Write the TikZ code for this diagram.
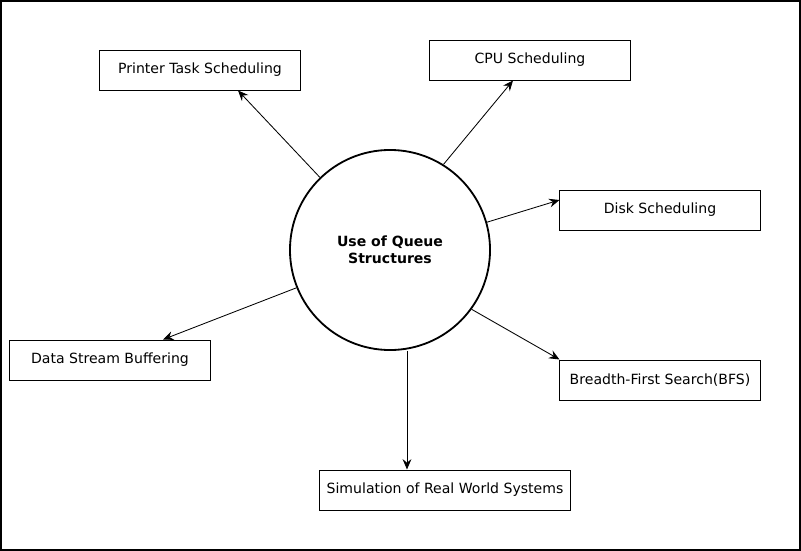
\documentclass[tikz,border=0pt]{standalone}
\usepackage{fontspec}
\setmainfont{DejaVu Sans}
\usetikzlibrary{positioning, arrows.meta}

\begin{document}
\begin{tikzpicture}[x=0.025cm, y=-0.025cm, font=\fontsize{10}{12}\selectfont]
\tikzstyle{box}=[draw, line width=0.7pt, minimum width=5cm, minimum height=1cm, inner sep=0pt]
\tikzstyle{hubstyle}=[draw, circle, line width=1.3pt, minimum size=5cm, align=center, font=\fontsize{10}{12}\selectfont\bfseries]
\tikzstyle{link}=[line width=0.6pt, -{Stealth[length=2.6mm, width=2.2mm, inset=0.9mm]}]
\useasboundingbox (0,0) rectangle (801,551);
\draw[line width=1.4pt] (1,1) rectangle (800,550);
\node[hubstyle] (hub) at (390,250) {Use of Queue\\Structures};
\node[box] (printer) at (200,70) {Printer Task Scheduling};
\node[box] (cpu) at (530,60) {CPU Scheduling};
\node[box] (disk) at (660,210) {Disk Scheduling};
\node[box] (data) at (110,360) {Data Stream Buffering};
\node[box] (bfs) at (660,380) {Breadth-First Search(BFS)};
\node[box, minimum width=6.25cm] (sim) at (445,490) {Simulation of Real World Systems};
\coordinate (simtip) at ([xshift=-0.95cm]sim.north);
\draw[link] (hub.134.6) -- ([xshift=0.95cm]printer.south);
\draw[link] (hub.58.6) -- ([xshift=-0.425cm]cpu.south);
\draw[link] (hub.16.8) -- ([yshift=0.25cm]disk.west);
\draw[link] (hub.-36.6) -- (bfs.north west);
\draw[link] (hub.202.2) -- ([xshift=1.325cm]data.north);
\draw[link] (hub.south -| simtip) -- (simtip);
\end{tikzpicture}
\end{document}
